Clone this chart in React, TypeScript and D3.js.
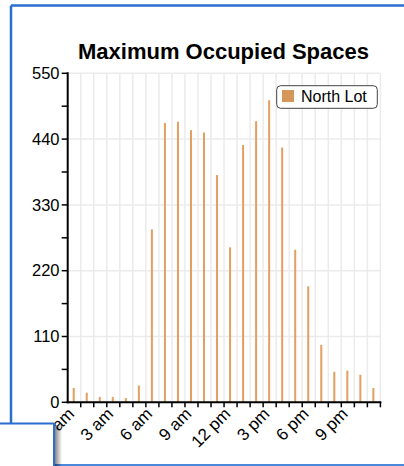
import React from "react";
import * as d3 from "d3";

const hours: number[] = d3.range(24);
const occupied: number[] = [24, 16, 9, 9, 7, 28, 289, 467, 469, 455, 451, 380, 259, 430, 470, 505, 426, 255, 194, 96, 51, 53, 46, 24];
const xTickHours: number[] = [0, 3, 6, 9, 12, 15, 18, 21];
const xTickLabels: string[] = ["12 am", "3 am", "6 am", "9 am", "12 pm", "3 pm", "6 pm", "9 pm"];
const yTickValues: number[] = [0, 110, 220, 330, 440, 550];
const yMinorValues: number[] = d3.range(0, 551, 55);
const title = "Maximum Occupied Spaces";
const seriesName = "North Lot";

const W = 404;
const H = 466;
const FONT = "'Liberation Sans', Arial, Helvetica, sans-serif";

export default function App() {
  const x = d3.scaleLinear().domain([0, 24]).range([67.7, 380.4]);
  const y = d3.scaleLinear().domain([0, 550]).range([402.3, 73.3]);
  const barW = 2;
  const barColor = "#e39f5f";
  const blue = "#2a6fd0";

  return (
    <svg
      width={W}
      height={H}
      style={{ position: "absolute", left: 0, top: 0, background: "#fff" }}
      fontFamily={FONT}
    >
      <defs>
        <linearGradient id="shadow" x1="0" x2="1" y1="0" y2="0">
          <stop offset="0" stopColor="#000" stopOpacity={0.55} />
          <stop offset="1" stopColor="#000" stopOpacity={0} />
        </linearGradient>
      </defs>
      <rect x={0} y={0} width={W} height={H} fill="#fff" />
      {/* frame */}
      <line x1={11} y1={5.5} x2={W} y2={5.5} stroke={blue} strokeWidth={2.5} />
      <line x1={11} y1={5.5} x2={11} y2={424} stroke={blue} strokeWidth={2.5} />
      <line x1={54} y1={465} x2={W} y2={465} stroke="#4a88dc" strokeWidth={2} />

      {/* title */}
      <text x={223.5} y={59} textAnchor="middle" fontWeight="bold" fontSize={22} fill="#000">
        {title}
      </text>

      {/* grid */}
      {yTickValues.map((v) => (
        <line key={"gy" + v} x1={x(0)} x2={x(24)} y1={y(v)} y2={y(v)} stroke="#ebebeb" strokeWidth={1.5} />
      ))}
      {d3.range(1, 25).map((h) => (
        <line key={"gx" + h} x1={x(h)} x2={x(h)} y1={y(550)} y2={y(0)} stroke="#ebebeb" strokeWidth={1.5} />
      ))}

      {/* bars */}
      {hours.map((h, i) => (
        <rect
          key={"b" + h}
          x={x(h + 0.5) - barW / 2 - 0.5}
          y={y(occupied[i])}
          width={barW}
          height={y(0) - y(occupied[i])}
          fill={barColor}
        />
      ))}

      {/* y axis */}
      <line x1={x(0)} x2={x(0)} y1={y(550) - 1} y2={y(0) + 1} stroke="#000" strokeWidth={2} />
      {yMinorValues.map((v) => (
        <line key={"yt" + v} x1={x(0) - 6} x2={x(0)} y1={y(v)} y2={y(v)} stroke="#000" strokeWidth={1.5} />
      ))}
      {yTickValues.map((v) => (
        <text key={"yl" + v} x={59.5} y={y(v)} dy="0.35em" textAnchor="end" fontSize={16.5} fill="#000">
          {v}
        </text>
      ))}

      {/* x axis */}
      <line x1={x(0) - 1} x2={x(24) + 1} y1={y(0)} y2={y(0)} stroke="#000" strokeWidth={2} />
      {d3.range(1, 25).map((h) => (
        <line key={"xt" + h} x1={x(h)} x2={x(h)} y1={y(0)} y2={y(0) + 5} stroke="#000" strokeWidth={1.5} />
      ))}
      {xTickHours.map((h, i) => (
        <text
          key={"xl" + h}
          transform={`translate(${x(h) + 7.5},${415}) rotate(-45)`}
          textAnchor="end"
          fontSize={17}
          fill="#000"
        >
          {xTickLabels[i]}
        </text>
      ))}

      {/* legend */}
      <rect x={276.7} y={85.7} width={100.6} height={22.6} rx={4} fill="#fff" stroke="#444" strokeWidth={1} />
      <rect x={282} y={90} width={12} height={12} fill="#d6985a" />
      <text x={301} y={101.5} fontSize={16} fill="#000">
        {seriesName}
      </text>

      {/* overlapping window */}
      <rect x={54} y={425} width={8} height={H - 425} fill="url(#shadow)" />
      <rect x={0} y={423.5} width={54} height={H - 423.5} fill="#fff" />
      <line x1={0} y1={423.5} x2={54} y2={423.5} stroke={blue} strokeWidth={2} />
      <line x1={54} y1={423.5} x2={54} y2={H} stroke={blue} strokeWidth={2} />
    </svg>
  );
}
